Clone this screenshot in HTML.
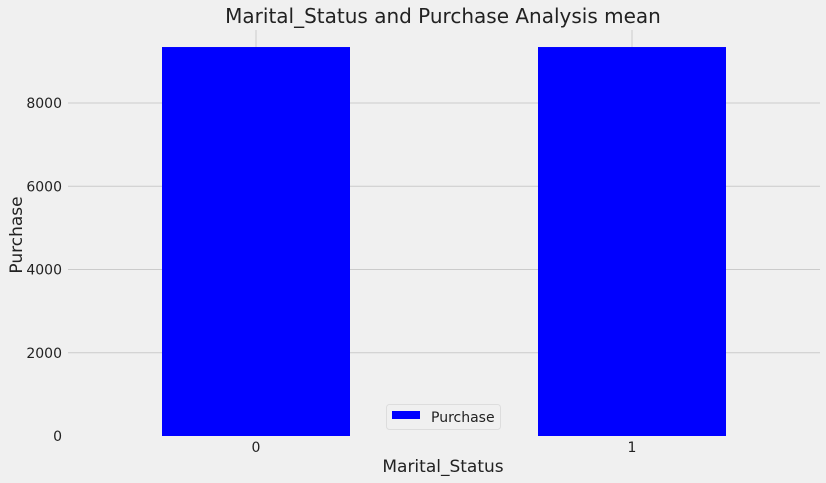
<!DOCTYPE html>
<html><head><meta charset="utf-8"><style>
body{margin:0;background:#f0f0f0;}
svg{display:block;font-family:"DejaVu Sans","Liberation Sans",sans-serif;}
</style></head><body>
<svg id="chart" width="826" height="483">
<rect width="826" height="483" fill="#f0f0f0"/>
<text x="443" y="23" font-size="20" text-anchor="middle" fill="#222">Marital_Status and Purchase Analysis mean</text>
<g id="grid"></g><g id="bars"></g><g id="ticks"></g>
<text x="443" y="472" font-size="17" text-anchor="middle" fill="#222">Marital_Status</text>
<text transform="translate(22,235) rotate(-90)" font-size="17" text-anchor="middle" fill="#222">Purchase</text>
<g>
<rect x="386.5" y="404.5" width="114" height="25" rx="3" fill="#f0f0f0" stroke="#ddd"/>
<rect x="392" y="411" width="28" height="8" fill="#0000ff"/>
<text x="431" y="422" font-size="14" fill="#222">Purchase</text>
</g>
</svg>
<script>
const categories=["0","1"];
const values=[9345,9345];
const yTicks=[0,2000,4000,6000,8000];
const NS="http://www.w3.org/2000/svg";
const L=68,R=820,T=30,B=436,yMax=9754;
const xs=i=>L+(i+0.5)*(R-L)/categories.length;
const ys=v=>B-v/yMax*(B-T);
const bw=(R-L)/categories.length*0.5;
function mk(t,a,p){const e=document.createElementNS(NS,t);for(const k in a)e.setAttribute(k,a[k]);p.appendChild(e);return e;}
const grid=document.getElementById('grid'),bars=document.getElementById('bars'),ticks=document.getElementById('ticks');
yTicks.forEach(v=>{
 if(v>0){const g=mk('line',{x1:L,x2:R,y1:ys(v),y2:ys(v),stroke:'#cbcbcb','stroke-width':1},grid);
 
 }
 const t=mk('text',{x:62,y:ys(v)+5,'font-size':14,'text-anchor':'end',fill:'#222'},ticks);t.textContent=v;
 
 
});
categories.forEach((c,i)=>{
 const g=mk('line',{x1:xs(i),x2:xs(i),y1:T,y2:B,stroke:'#cbcbcb','stroke-width':1},grid);
 
 
 const b=mk('rect',{x:xs(i)-bw/2,y:ys(values[i]),width:bw,height:B-ys(values[i]),fill:'#0000ff'},bars);
 
 
 const t=mk('text',{x:xs(i),y:452,'font-size':14,'text-anchor':'middle',fill:'#222'},ticks);t.textContent=c;
 
 
});
</script>
</body></html>
